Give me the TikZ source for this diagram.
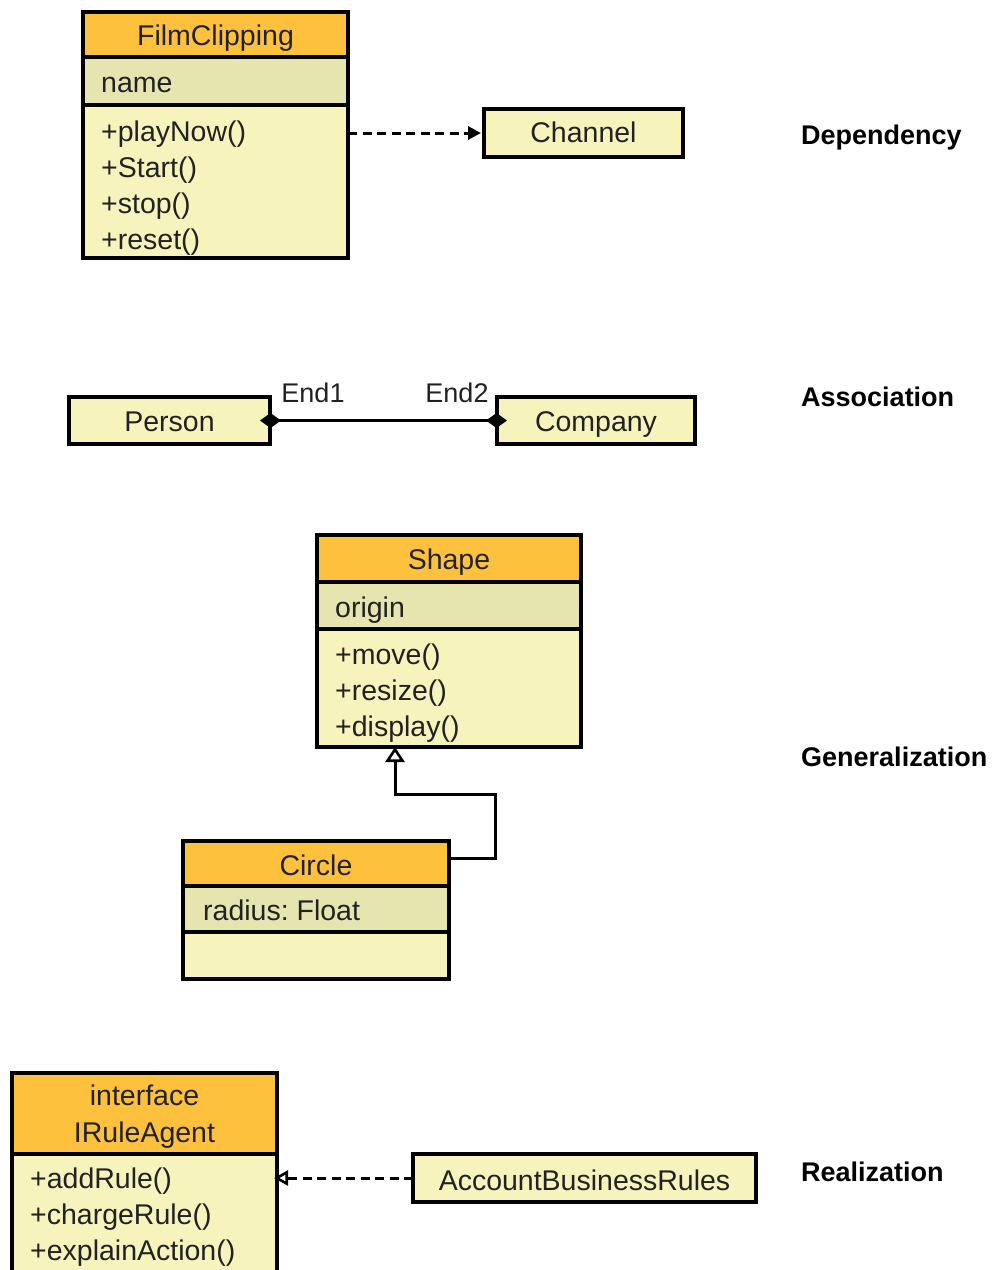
\documentclass[tikz,border=0pt]{standalone}
\usepackage{fontspec}
\setmainfont{Liberation Sans}
\frenchspacing
\usetikzlibrary{arrows.meta}
\definecolor{hdrfill}{HTML}{FEC13E}
\definecolor{attrfill}{HTML}{E6E5B0}
\definecolor{opfill}{HTML}{F6F4BC}
\definecolor{ink}{HTML}{222222}
\begin{document}
\begin{tikzpicture}[x=1pt,y=-1pt,
  part/.style={draw=black, line width=3.2pt, inner sep=0pt, outer sep=0pt},
  hdr/.style={part, fill=hdrfill},
  attr/.style={part, fill=attrfill},
  ops/.style={part, fill=opfill},
  txt/.style={font=\fontsize{28.5}{36}\selectfont, text=ink, inner sep=0pt},
  ctxt/.style={txt, anchor=base},
  ltxt/.style={txt, anchor=base west},
  kind/.style={font=\fontsize{27}{32}\selectfont\bfseries, anchor=base west, inner sep=0pt},
  endlabel/.style={font=\fontsize{27}{32}\selectfont, text=ink, anchor=base, inner sep=0pt},
  conn/.style={line width=3pt, draw=black},
  dep/.style={conn, dash pattern=on 9pt off 5.5pt, -{Triangle[length=13pt,width=13pt]}, shorten >=3pt},
  assoc/.style={conn, {Diamond[length=21pt,width=15pt]}-{Diamond[length=21pt,width=15pt]}, shorten <=-10pt, shorten >=-10pt},
  gen/.style={conn, -{Triangle[open,length=15pt,width=19pt,line width=2.6pt,fill=white]}},
  real/.style={conn, dash pattern=on 9pt off 5.5pt, -{Triangle[open,length=14pt,width=15pt,line width=2.6pt,fill=white]}, shorten >=-3pt}
]
\useasboundingbox (0,0) rectangle (994,1270);
\clip (0,0) rectangle (994,1270);

% FilmClipping class
\node[hdr, minimum width=265pt, minimum height=45pt] (fcH) at (215.5,34.5) {};
\node[attr, minimum width=265pt, minimum height=48pt] (fcA) at (215.5,81) {};
\node[ops, minimum width=265pt, minimum height=153pt] (fcM) at (215.5,181.5) {};
\node[ctxt] (fcName) at (215.5,45) {FilmClipping};
\node[ltxt] (fcAttr) at (101,92) {name};
\foreach \t [count=\i] in {+playNow(),+Start(),+stop(),+reset()}
  \node[ltxt] (fcOp\i) at (101,{141+36*(\i-1)}) {\t};

\node[ops, minimum width=199pt, minimum height=48pt] (chan) at (583.5,133) {};
\node[ctxt] (chanName) at (583.5,142) {Channel};
\draw[dep] (fcM.east |- chan.west) -- (chan.west);
\node[kind] (lblDep) at (801,144) {Dependency};

% Association
\node[ops, minimum width=201pt, minimum height=47pt] (person) at (169.5,420.5) {};
\node[ctxt] (personName) at (169.5,431) {Person};
\node[ops, minimum width=198pt, minimum height=47pt] (company) at (596,420.5) {};
\node[ctxt] (companyName) at (596,431) {Company};
\draw[assoc] (person.east) -- (company.west);
\node[endlabel] (end1) at (313,402) {End1};
\node[endlabel] (end2) at (457,402) {End2};
\node[kind] (lblAssoc) at (801,406) {Association};

% Shape and Circle
\node[hdr, minimum width=264pt, minimum height=47pt] (shH) at (449,558.5) {};
\node[attr, minimum width=264pt, minimum height=47pt] (shA) at (449,605.5) {};
\node[ops, minimum width=264pt, minimum height=118pt] (shM) at (449,688) {};
\node[ctxt] (shName) at (449,569.5) {Shape};
\node[ltxt] (shAttr) at (335,617) {origin};
\foreach \t [count=\i] in {+move(),+resize(),+display()}
  \node[ltxt] (shOp\i) at (335,{664+36*(\i-1)}) {\t};

\node[hdr, minimum width=266pt, minimum height=45pt] (ciH) at (316,863.5) {};
\node[attr, minimum width=266pt, minimum height=46pt] (ciA) at (316,909) {};
\node[ops, minimum width=266pt, minimum height=47pt] (ciM) at (316,955.5) {};
\node[ctxt] (ciName) at (316,875) {Circle};
\node[ltxt] (ciAttr) at (203,920) {radius: Float};
\draw[gen] ([yshift=5.5pt]ciH.east) -- (495,858) -- (495,794) -- (395,794) -- (395,794 |- shM.south);
\node[kind] (lblGen) at (801,766) {Generalization};

% Interface and realization
\node[hdr, minimum width=265pt, minimum height=81pt] (iaH) at (144.5,1113.5) {};
\node[ops, minimum width=265pt, minimum height=124pt] (iaM) at (144.5,1216) {};
\node[ctxt] (iaStereo) at (144.5,1105) {interface};
\node[ctxt] (iaName) at (144.5,1142) {IRuleAgent};
\foreach \t [count=\i] in {+addRule(),+chargeRule(),+explainAction()}
  \node[ltxt] (iaOp\i) at (30,{1188+36*(\i-1)}) {\t};

\node[ops, minimum width=343pt, minimum height=48pt] (abr) at (584.5,1178) {};
\node[ctxt] (abrName) at (584.5,1190) {AccountBusinessRules};
\draw[real] (abr.west) -- (iaM.east |- abr.west);
\node[kind] (lblReal) at (801,1181) {Realization};
\end{tikzpicture}
\end{document}
